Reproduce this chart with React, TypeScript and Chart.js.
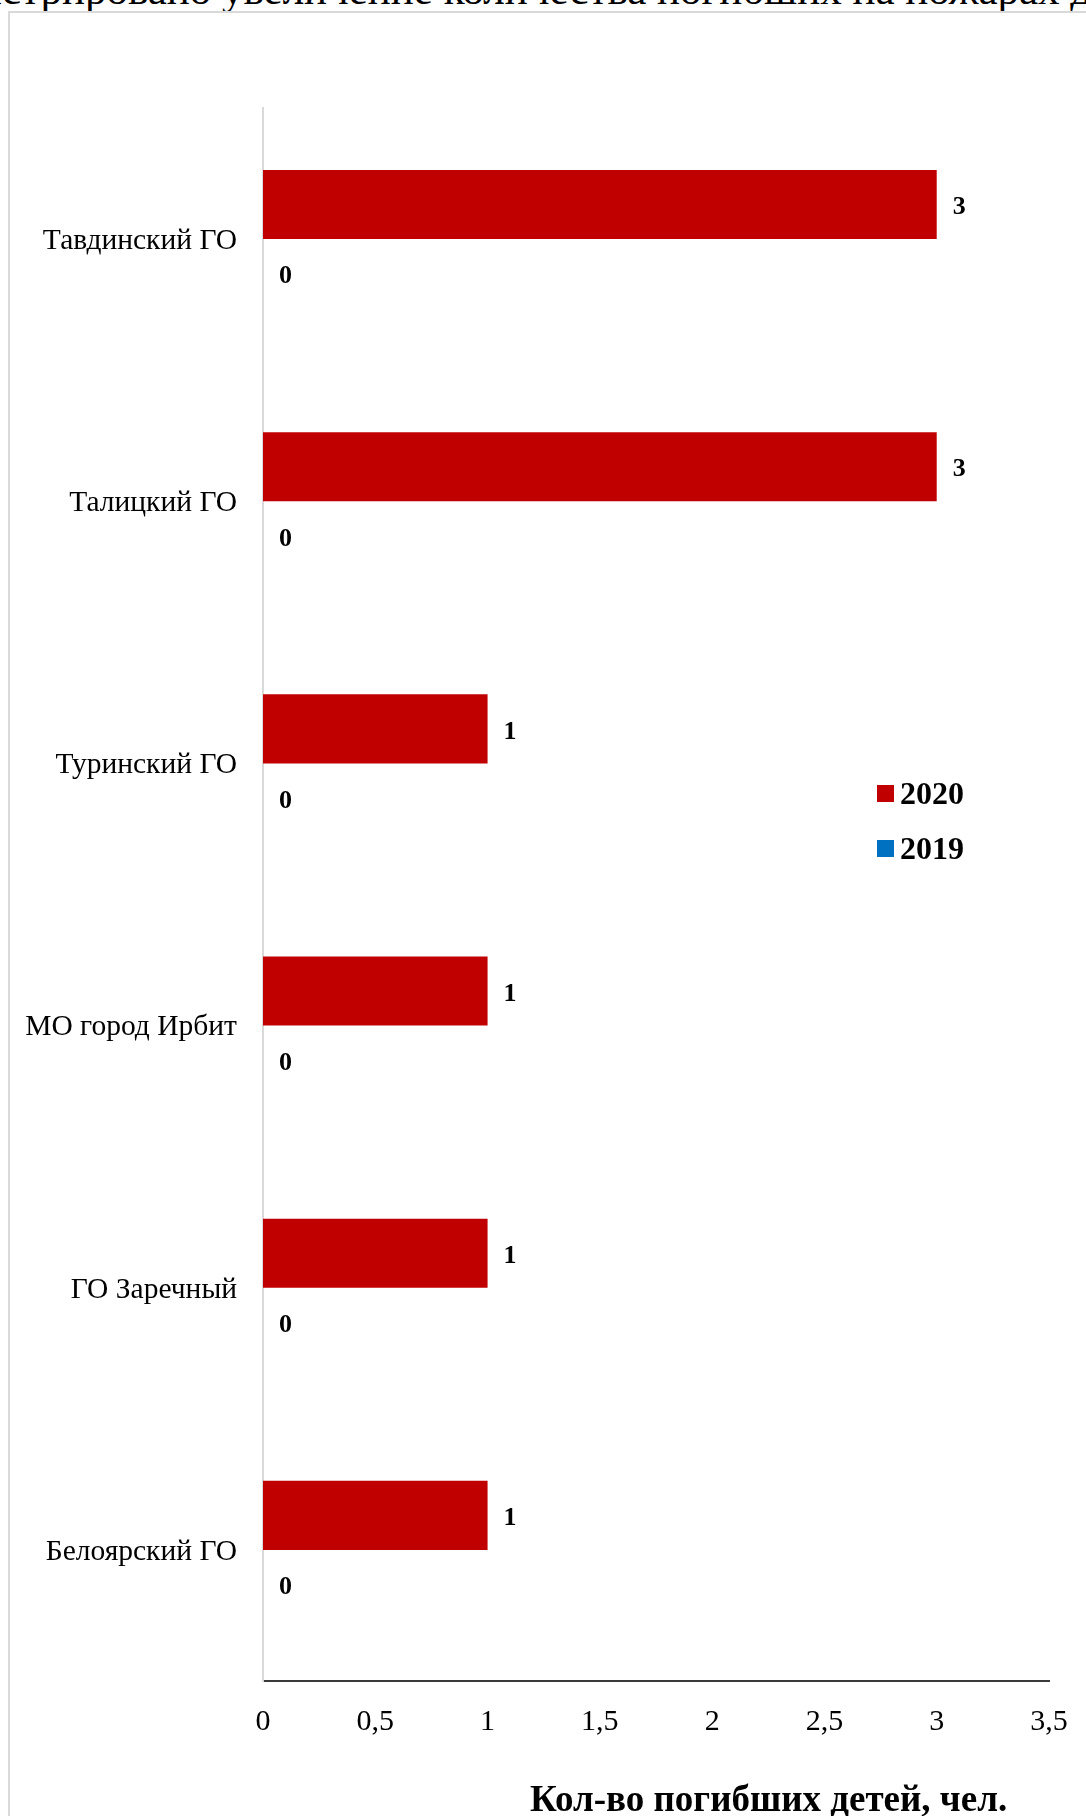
import React, { useEffect, useRef } from 'react';
import { Chart, registerables } from 'chart.js';

Chart.register(...registerables);

const categories = ['Тавдинский ГО', 'Талицкий ГО', 'Туринский ГО', 'МО город Ирбит', 'ГО Заречный', 'Белоярский ГО'];
const values2020 = [3, 3, 1, 1, 1, 1];
const values2019 = [0, 0, 0, 0, 0, 0];
const seriesLabels = ['2020', '2019'];
const seriesColors = ['#C00000', '#0070C0'];
const xTicks = [0, 0.5, 1, 1.5, 2, 2.5, 3, 3.5];
const axisTitle = 'Кол-во погибших детей, чел.';
const topTextHidden = 'зареги';
const topTextVisible = 'стрировано увеличение количества погибших на пожарах детей';

const FONT = "'Times New Roman', 'Liberation Serif', serif";

const valueLabels = {
  id: 'valueLabels',
  afterDatasetsDraw(chart: any) {
    const ctx = chart.ctx;
    ctx.save();
    ctx.font = `bold 26px ${FONT}`;
    ctx.fillStyle = '#000';
    ctx.textAlign = 'left';
    ctx.textBaseline = 'middle';
    chart.data.datasets.forEach((ds: any, i: number) => {
      const meta = chart.getDatasetMeta(i);
      meta.data.forEach((el: any, j: number) => {
        ctx.fillText(String(ds.data[j]), el.x + 16, el.y + 3);
      });
    });
    ctx.restore();
  },
};

export default function App() {
  const canvasRef = useRef<HTMLCanvasElement | null>(null);

  useEffect(() => {
    if (!canvasRef.current) return;
    const chart = new Chart(canvasRef.current, {
      type: 'bar',
      data: {
        labels: categories,
        datasets: [
          {
            label: seriesLabels[0],
            data: values2020,
            backgroundColor: seriesColors[0],
            categoryPercentage: 0.527,
            barPercentage: 1,
          },
          {
            label: seriesLabels[1],
            data: values2019,
            backgroundColor: seriesColors[1],
            categoryPercentage: 0.527,
            barPercentage: 1,
          },
        ],
      },
      options: {
        indexAxis: 'y',
        responsive: false,
        maintainAspectRatio: false,
        animation: false,
        devicePixelRatio: 1,
        layout: { padding: { top: 108, right: 37, left: 0, bottom: 0 } },
        plugins: {
          legend: { display: false },
          tooltip: { enabled: false },
        },
        scales: {
          x: {
            type: 'linear',
            min: 0,
            max: 3.5,
            afterBuildTicks: (s: any) => {
              s.ticks = xTicks.map((v) => ({ value: v }));
            },
            ticks: {
              color: '#000',
              font: { family: FONT, size: 30 },
              padding: 23,
              maxRotation: 0,
              autoSkip: false,
              callback: (v: any) => String(v).replace('.', ','),
            },
            grid: { display: false, drawTicks: false },
            border: { display: true, color: '#3a3a3a', width: 2 },
            afterFit: (s: any) => {
              s.height = 135;
              s.paddingLeft = 0;
              s.paddingRight = 0;
            },
          },
          y: {
            type: 'category',
            ticks: {
              color: '#000',
              font: { family: FONT, size: 29.5 },
              padding: 26,
              labelOffset: 2,
              autoSkip: false,
            },
            grid: { display: false, drawTicks: false },
            border: { display: true, color: '#d9d9d9', width: 2 },
            afterFit: (s: any) => {
              s.width = 263;
            },
          },
        },
      },
      plugins: [valueLabels],
    } as any);
    return () => chart.destroy();
  }, []);

  return (
    <div
      style={{
        position: 'absolute',
        left: 0,
        top: 0,
        width: 1086,
        height: 1816,
        background: '#fff',
        overflow: 'hidden',
      }}
    >
      {/* clipped line of document text above the chart frame */}
      <div style={{ position: 'absolute', left: 0, top: 0, width: 1086, height: 11, overflow: 'hidden' }}>
        <div
          style={{
            position: 'absolute',
            left: 2,
            top: -32,
            whiteSpace: 'nowrap',
            fontFamily: FONT,
            fontSize: 43,
            lineHeight: '43px',
            color: '#000',
          }}
        >
          <span style={{ position: 'absolute', right: '100%' }}>{topTextHidden}</span>
          {topTextVisible}
        </div>
      </div>
      {/* chart frame */}
      <div
        style={{
          position: 'absolute',
          left: 8,
          top: 11,
          width: 2000,
          height: 2000,
          border: '2px solid #d9d9d9',
          boxSizing: 'border-box',
        }}
      />
      <canvas
        ref={canvasRef}
        width={1086}
        height={1816}
        style={{ position: 'absolute', left: 0, top: 0, width: 1086, height: 1816 }}
      />
      {/* legend */}
      {seriesLabels.map((lab, i) => (
        <div
          key={lab}
          style={{
            position: 'absolute',
            left: 877,
            top: 779 + i * 55,
            height: 28,
            display: 'flex',
            alignItems: 'center',
            whiteSpace: 'nowrap',
          }}
        >
          <div style={{ width: 17, height: 17, background: seriesColors[i], marginRight: 6 }} />
          <span style={{ fontFamily: FONT, fontWeight: 'bold', fontSize: 32, lineHeight: '28px', color: '#000' }}>{lab}</span>
        </div>
      ))}
      {/* axis title */}
      <div
        style={{
          position: 'absolute',
          left: 530,
          top: 1780,
          whiteSpace: 'nowrap',
          fontFamily: FONT,
          fontWeight: 'bold',
          fontSize: 37,
          lineHeight: '37px',
          color: '#000',
        }}
      >
        {axisTitle}
      </div>
    </div>
  );
}
